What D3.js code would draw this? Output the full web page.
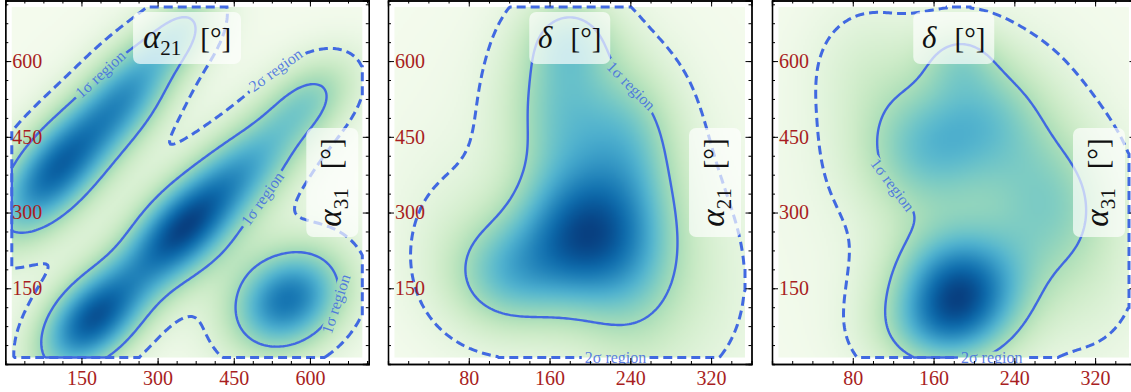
<!DOCTYPE html>
<html>
<head>
<meta charset="utf-8">
<script src="https://cdn.jsdelivr.net/npm/d3@7"></script>
<style>
  body { margin: 0; background: #fff; }
  svg text { font-family: "Liberation Serif", "DejaVu Serif", serif; }
</style>
</head>
<body>
<script>
// tick values of the three panels
var alphaTicks = [150, 300, 450, 600];
var deltaTicks = [80, 160, 240, 320];
var alphaMinor = d3.range(37.5, 716, 37.5);
var deltaMinor = d3.range(20, 360, 20);
var alphaRange = [0, 716];
var alphaRangeY = [0, 720];
var deltaRange = [0, 360];

// probability mass inside the 1 sigma and 2 sigma regions
var sigmaMass = [0.683, 0.954];

// posterior read off the picture as a sum of gaussian bumps
// panel 1 : alpha21 (x) against alpha31 (y)
var a21a31X = [100, 248, 352, 172, 345, 475, 600, 556, 360];
var a21a31Y = [385, 543, 662, 88, 262, 390, 525, 127, 360];
var a21a31SigU = [120, 90, 70, 95, 95, 95, 80, 88, 330];
var a21a31SigV = [58, 55, 45, 58, 58, 58, 52, 70, 330];
var a21a31Ang = [50, 55, 50, 45, 45, 42, 40, 35, 0];
var a21a31W = [1.0, 0.6, 0.4, 1.05, 1.0, 0.6, 0.45, 0.95, 0.05];

// panel 2 : delta (x) against alpha21 (y)
var dA21X = [187, 115, 170, 245, 240, 182, 320, 60, 180];
var dA21Y = [255, 175, 520, 230, 470, 650, 140, 250, 360];
var dA21SigU = [45, 40, 40, 40, 35, 32, 45, 40, 150];
var dA21SigV = [105, 80, 110, 160, 100, 60, 160, 120, 330];
var dA21Ang = [0, 0, 0, 0, 0, 0, 0, 0, 0];
var dA21W = [1.0, 0.55, 0.55, 0.5, 0.35, 0.35, 0.12, 0.1, 0.08];

// panel 3 : delta (x) against alpha31 (y)
var dA31X = [186, 150, 275, 215, 185, 160, 95, 320, 180];
var dA31Y = [146, 420, 320, 500, 610, 60, 590, 150, 360];
var dA31SigU = [46, 48, 45, 45, 28, 45, 40, 40, 150];
var dA31SigV = [85, 95, 110, 90, 50, 60, 90, 120, 330];
var dA31Ang = [0, 0, 0, 0, 0, 0, 0, 0, 0];
var dA31W = [1.0, 0.5, 0.45, 0.4, 0.25, 0.3, 0.14, 0.1, 0.08];

function comps(cx, cy, su, sv, ang, w) {
  return cx.map(function(d, i) {
    var a = ang[i] * Math.PI / 180;
    return { x: d, y: cy[i], su: su[i], sv: sv[i], c: Math.cos(a), s: Math.sin(a), w: w[i] };
  });
}

var panels = [
  { left: 5.3, xDom: alphaRange, yDom: alphaRangeY, xTicks: alphaTicks, xMinor: alphaMinor,
    top: "a21", side: "a31", comps: comps(a21a31X, a21a31Y, a21a31SigU, a21a31SigV, a21a31Ang, a21a31W),
    labels: [
      { t: "1σ region", lev: 0, at: [193, 566] },
      { t: "2σ region", lev: 1, at: [528, 591] },
      { t: "1σ region", lev: 0, at: [496, 334] },
      { t: "1σ region", lev: 0, at: [644, 121] }
    ] },
  { left: 388, xDom: deltaRange, yDom: alphaRangeY, xTicks: deltaTicks, xMinor: deltaMinor,
    top: "d", side: "a21", comps: comps(dA21X, dA21Y, dA21SigU, dA21SigV, dA21Ang, dA21W),
    labels: [
      { t: "1σ region", lev: 0, at: [256, 581] },
      { t: "2σ region", lev: 1, at: [226, 12] }
    ] },
  { left: 772, xDom: deltaRange, yDom: alphaRangeY, xTicks: deltaTicks, xMinor: deltaMinor,
    top: "d", side: "a31", comps: comps(dA31X, dA31Y, dA31SigU, dA31SigV, dA31Ang, dA31W),
    labels: [
      { t: "1σ region", lev: 0, at: [115, 348] },
      { t: "2σ region", lev: 1, at: [218, 8] }
    ] }
];

var pw = 363.5, ph = 363.5, inset = 6.5;
var nx = 180, ny = 180;
var lineColor = "#4169e1", tickColor = "#a81e22";

var svg = d3.select("body").append("svg")
  .attr("width", 1131)
  .attr("height", 392);
var defs = svg.append("defs");

function density(cs, x, y) {
  var v = 0;
  for (var k = 0; k < cs.length; k++) {
    var c = cs[k], dx = x - c.x, dy = y - c.y;
    var u = dx * c.c + dy * c.s, w = -dx * c.s + dy * c.c;
    v += c.w * Math.exp(-0.5 * (u * u / (c.su * c.su) + w * w / (c.sv * c.sv)));
  }
  return v;
}

// writes alpha_ij or delta, followed by [deg]
function mathLabel(text, name) {
  if (name == "d") {
    text.append("tspan").attr("font-style", "italic").text("δ");
    text.append("tspan").attr("dx", 18).attr("font-size", "29px").text("[°]");
  } else {
    text.append("tspan").attr("font-style", "italic").attr("font-size", "33px").text("α");
    text.append("tspan").attr("font-size", "21px").attr("dy", 7).text(name.slice(1));
    text.append("tspan").attr("dy", -7).attr("dx", 19).attr("font-size", "29px").text("[°]");
  }
}

panels.forEach(function(p, k) {
  var g = svg.append("g").attr("transform", "translate(" + p.left + ",0.5)");
  var x = d3.scaleLinear().domain(p.xDom).range([0, pw]);
  var y = d3.scaleLinear().domain(p.yDom).range([ph, 0]);

  defs.append("clipPath").attr("id", "clip" + k)
    .append("rect").attr("width", pw).attr("height", ph);

  // density on a grid inside the axes
  var gw = pw - 2 * inset, gh = ph - 2 * inset;
  var cw = gw / nx, ch = gh / ny;
  var values = new Float64Array(nx * ny);
  for (var j = 0; j < ny; j++) {
    for (var i = 0; i < nx; i++) {
      values[j * nx + i] = density(p.comps,
        x.invert(inset + (i + 0.5) * cw), y.invert(inset + (j + 0.5) * ch));
    }
  }
  var vmax = d3.max(values);
  var total = d3.sum(values);
  var sorted = Array.from(values).sort(function(a, b) { return b - a; });
  var levels = sigmaMass.map(function(f) {
    var acc = 0;
    for (var q = 0; q < sorted.length; q++) {
      acc += sorted[q];
      if (acc >= f * total) return sorted[q];
    }
    return sorted[sorted.length - 1];
  });

  var color = d3.scaleSequential(d3.interpolateGnBu).domain([0, vmax]);
  var canvas = document.createElement("canvas");
  canvas.width = nx; canvas.height = ny;
  var ctx = canvas.getContext("2d");
  var img = ctx.createImageData(nx, ny);
  for (var q = 0; q < values.length; q++) {
    var c = d3.rgb(color(values[q]));
    img.data[q * 4] = c.r; img.data[q * 4 + 1] = c.g; img.data[q * 4 + 2] = c.b; img.data[q * 4 + 3] = 255;
  }
  ctx.putImageData(img, 0, 0);

  var plot = g.append("g").attr("clip-path", "url(#clip" + k + ")");
  plot.append("image")
    .attr("x", inset).attr("y", inset)
    .attr("width", gw).attr("height", gh)
    .attr("preserveAspectRatio", "none")
    .attr("href", canvas.toDataURL());

  var contours = d3.contours().size([nx, ny]).thresholds(levels)(values);
  var toPx = d3.geoTransform({ point: function(a, b) { this.stream.point(inset + a * cw, inset + b * ch); } });
  var path = d3.geoPath(toPx);

  var mask = defs.append("mask").attr("id", "mask" + k).attr("maskUnits", "userSpaceOnUse")
    .attr("x", -10).attr("y", -10).attr("width", pw + 20).attr("height", ph + 20);
  mask.append("rect").attr("x", -10).attr("y", -10).attr("width", pw + 20).attr("height", ph + 20).attr("fill", "white");

  var lines = plot.append("g").attr("mask", "url(#mask" + k + ")");
  lines.selectAll("path")
    .data(contours)
    .enter().append("path")
    .attr("d", path)
    .attr("fill", "none")
    .attr("stroke", lineColor)
    .attr("stroke-width", function(d) { return d.value == levels[1] ? 3 : 2.4; })
    .attr("stroke-dasharray", function(d) { return d.value == levels[1] ? "9,5" : null; });

  // contour labels sit on the nearest point of their contour
  p.labels.forEach(function(l) {
    var cont = contours.filter(function(c) { return c.value == levels[l.lev]; })[0];
    var tx = x(l.at[0]), ty = y(l.at[1]);
    var best = null, bd = Infinity;
    cont.coordinates.forEach(function(poly) {
      poly.forEach(function(ring) {
        ring.forEach(function(pt, idx) {
          var px = inset + pt[0] * cw, py = inset + pt[1] * ch;
          var dd = (px - tx) * (px - tx) + (py - ty) * (py - ty);
          if (dd < bd) { bd = dd; best = { ring: ring, idx: idx, px: px, py: py }; }
        });
      });
    });
    var r = best.ring, n = r.length;
    var a = r[(best.idx - 4 + n) % n], b = r[(best.idx + 4) % n];
    var ang = Math.atan2((b[1] - a[1]) * ch, (b[0] - a[0]) * cw) * 180 / Math.PI;
    if (ang > 90) ang -= 180;
    if (ang < -90) ang += 180;
    var lab = plot.append("text")
      .attr("transform", "translate(" + best.px + "," + best.py + ") rotate(" + ang + ")")
      .attr("text-anchor", "middle")
      .attr("dy", "0.33em")
      .attr("font-size", "16px")
      .attr("fill", lineColor)
      .attr("fill-opacity", 0.85)
      .text(l.t);
    var len = lab.node().getComputedTextLength();
    mask.append("rect")
      .attr("transform", "translate(" + best.px + "," + best.py + ") rotate(" + ang + ")")
      .attr("x", -len / 2 - 3).attr("y", -6)
      .attr("width", len + 6).attr("height", 12)
      .attr("fill", "black");
  });

  // axes, ticks pointing inwards on all sides
  function styleAxis(sel) {
    sel.select(".domain").attr("stroke", "#000").attr("stroke-width", 1.3);
    sel.selectAll(".tick line").attr("stroke", "#000").attr("stroke-width", 1);
  }
  var fmt = function() { return ""; };
  g.append("g").attr("transform", "translate(0," + ph + ")")
    .call(d3.axisBottom(x).tickValues(p.xMinor).tickSize(-3).tickFormat(fmt)).call(styleAxis);
  g.append("g").attr("transform", "translate(0," + ph + ")")
    .call(d3.axisBottom(x).tickValues(p.xTicks).tickSizeInner(-6).tickSizeOuter(0).tickPadding(7))
    .call(styleAxis)
    .call(function(s) {
      s.selectAll("text").attr("fill", tickColor).attr("font-size", "20px")
        .attr("font-family", "Liberation Serif, serif");
    });
  g.append("g")
    .call(d3.axisTop(x).tickValues(p.xMinor).tickSize(-3).tickFormat(fmt)).call(styleAxis);
  g.append("g")
    .call(d3.axisTop(x).tickValues(p.xTicks).tickSize(-6).tickFormat(fmt)).call(styleAxis);
  g.append("g")
    .call(d3.axisLeft(y).tickValues(alphaMinor).tickSize(-3).tickFormat(fmt)).call(styleAxis);
  g.append("g")
    .call(d3.axisLeft(y).tickValues(alphaTicks).tickSizeInner(-6).tickSizeOuter(0))
    .call(styleAxis)
    .call(function(s) {
      s.selectAll("text").attr("fill", tickColor).attr("font-size", "20px")
        .attr("font-family", "Liberation Serif, serif")
        .attr("x", 7).attr("text-anchor", "start");
    });
  g.append("g").attr("transform", "translate(" + pw + ",0)")
    .call(d3.axisRight(y).tickValues(alphaMinor).tickSize(-3).tickFormat(fmt)).call(styleAxis);
  g.append("g").attr("transform", "translate(" + pw + ",0)")
    .call(d3.axisRight(y).tickValues(alphaTicks).tickSize(-6).tickFormat(fmt)).call(styleAxis);

  // parameter names in translucent boxes
  var topW = p.top == "d" ? 81 : 108;
  g.append("rect")
    .attr("x", pw / 2 - topW / 2).attr("y", 11.5)
    .attr("width", topW).attr("height", 52).attr("rx", 7)
    .attr("fill", "#fff").attr("fill-opacity", 0.68);
  var tt = g.append("text")
    .attr("x", pw / 2).attr("y", 47)
    .attr("text-anchor", "middle")
    .attr("font-size", "31px")
    .attr("fill", "#111");
  mathLabel(tt, p.top);

  var side = g.append("g").attr("transform", "translate(" + 327 + "," + 182 + ") rotate(-90)");
  side.append("rect")
    .attr("x", -54.5).attr("y", -26)
    .attr("width", 109).attr("height", 52).attr("rx", 7)
    .attr("fill", "#fff").attr("fill-opacity", 0.68);
  var st = side.append("text")
    .attr("y", 9)
    .attr("text-anchor", "middle")
    .attr("font-size", "31px")
    .attr("fill", "#111");
  mathLabel(st, p.side);
});
</script>
</body>
</html>
